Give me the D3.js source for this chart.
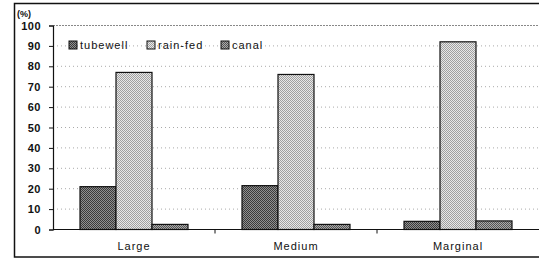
<!DOCTYPE html>
<html>
<head>
<meta charset="utf-8">
<script src="https://cdn.jsdelivr.net/npm/d3@7"></script>
<style>
  body { margin: 0; background: #fff; }
  svg { display: block; }
  text { font-family: "Liberation Sans", Arial, sans-serif; fill: #111; }
</style>
</head>
<body>
<svg id="chart" width="539" height="259"></svg>
<script>
// data
const categories = ["Large", "Medium", "Marginal"];
const seriesNames = ["tubewell", "rain-fed", "canal"];
const tubewell = [21, 21.5, 4];
const rainFed = [77, 76, 92];
const canal = [2.5, 2.5, 4.2];
const yTicks = [0, 10, 20, 30, 40, 50, 60, 70, 80, 90, 100];

const seriesValues = [tubewell, rainFed, canal];

const svg = d3.select("#chart");
const W = 539, H = 259;
const margin = { left: 53, right: 0, top: 25.5, bottom: 29.5 };

// outer frame
svg.append("rect")
  .attr("x", 14.5).attr("y", 3.5)
  .attr("width", W + 10).attr("height", 253.5)
  .attr("fill", "none").attr("stroke", "#111").attr("stroke-width", 1.5);

// hatch patterns
const defs = svg.append("defs");
function checker(id, fg, bg, size) {
  const p = defs.append("pattern").attr("id", id)
    .attr("patternUnits", "userSpaceOnUse").attr("width", size * 2).attr("height", size * 2);
  p.append("rect").attr("width", size * 2).attr("height", size * 2).attr("fill", bg);
  p.append("rect").attr("width", size).attr("height", size).attr("fill", fg);
  p.append("rect").attr("x", size).attr("y", size).attr("width", size).attr("height", size).attr("fill", fg);
}
checker("p0", "#3a3a3a", "#909090", 1);
checker("p1", "#a0a0a0", "#e8e8e8", 1);
checker("p2", "#555", "#aaa", 1);
const fills = ["url(#p0)", "url(#p1)", "url(#p2)"];

const x = d3.scaleBand().domain(categories)
  .range([margin.left, W - margin.right]).paddingInner(0).paddingOuter(0);
const xs = d3.scaleBand().domain(d3.range(seriesNames.length))
  .range([0, x.bandwidth()]).paddingInner(0).paddingOuter(0.75);
const y = d3.scaleLinear().domain([0, 100]).range([H - margin.bottom, margin.top]);

// gridlines
svg.append("g").selectAll("line")
  .data(yTicks.filter(d => d > 0))
  .join("line")
  .attr("x1", margin.left).attr("x2", W)
  .attr("y1", d => y(d)).attr("y2", d => y(d))
  .attr("stroke", d => d === 100 ? "#888" : "#aaa")
  .attr("stroke-width", 1)
  .attr("stroke-dasharray", d => d === 100 ? "2,1" : "1,3");

// bars
const groups = svg.append("g").selectAll("g")
  .data(seriesValues)
  .join("g")
  .attr("fill", (d, i) => fills[i]);

groups.selectAll("rect")
  .data((vals, si) => vals.map((v, ci) => ({ v, ci, si })))
  .join("rect")
  .attr("x", d => x(categories[d.ci]) + xs(d.si))
  .attr("width", xs.bandwidth())
  .attr("y", d => y(d.v))
  .attr("height", d => y(0) - y(d.v))
  .attr("stroke", "#111")
  .attr("stroke-width", 1.2);

// y axis
const yAxis = svg.append("g")
  .attr("transform", `translate(${margin.left},0)`)
  .call(d3.axisLeft(y).tickValues(yTicks).tickSize(4).tickPadding(8));
yAxis.select(".domain").attr("stroke", "#111").attr("stroke-width", 1.2);
yAxis.selectAll(".tick line").attr("stroke", "#111");
yAxis.selectAll("text").style("font-size", "11px").style("font-weight", "bold")
  .style("letter-spacing", "0.5px");

// x axis
svg.append("line")
  .attr("x1", margin.left).attr("x2", W)
  .attr("y1", y(0)).attr("y2", y(0))
  .attr("stroke", "#111").attr("stroke-width", 1.2);
svg.append("g").selectAll("line")
  .data(categories.slice(1))
  .join("line")
  .attr("x1", d => x(d)).attr("x2", d => x(d))
  .attr("y1", y(0)).attr("y2", y(0) + 4)
  .attr("stroke", "#111");
svg.append("g").selectAll("text")
  .data(categories)
  .join("text")
  .attr("x", d => x(d) + x.bandwidth() / 2)
  .attr("y", 250)
  .attr("text-anchor", "middle")
  .style("font-size", "11px")
  .style("letter-spacing", "1px")
  .text(d => d);

// unit label
svg.append("text")
  .attr("x", 17).attr("y", 17)
  .style("font-size", "9px").style("font-weight", "bold")
  .text("(%)");

// legend
const legendX = [69, 147, 221];
const legend = svg.append("g").selectAll("g")
  .data(seriesNames)
  .join("g")
  .attr("transform", (d, i) => `translate(${legendX[i]},45)`);
legend.append("rect")
  .attr("x", 0).attr("y", -4).attr("width", 8).attr("height", 8)
  .attr("fill", (d, i) => fills[i]).attr("stroke", "#111").attr("stroke-width", 1);
legend.append("text")
  .attr("x", 11).attr("y", 4)
  .style("font-size", "11px")
  .style("letter-spacing", "1px")
  .text(d => d);
</script>
</body>
</html>
